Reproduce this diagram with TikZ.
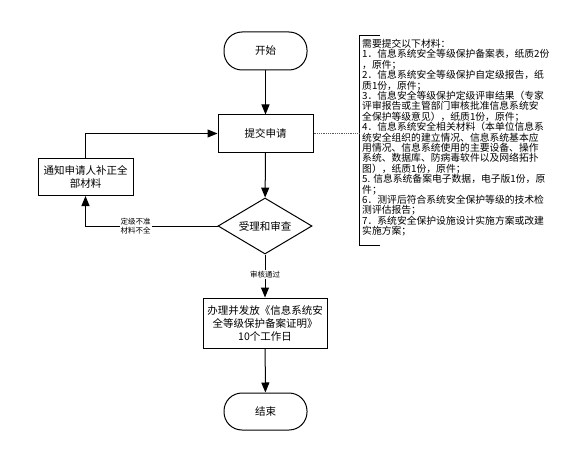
\documentclass[tikz,border=0pt]{standalone}
\usepackage{fontspec}
\setmainfont{Noto Sans CJK SC}
\usetikzlibrary{shapes.geometric,arrows.meta,calc}
\tikzset{
  base/.style={draw=black, line width=1pt, inner sep=1pt, align=center, font=\fontsize{10.5}{13}\selectfont},
  term/.style={base, rectangle, rounded corners=18pt, minimum width=83pt, minimum height=38pt},
  proc/.style={base, rectangle, minimum width=95pt, minimum height=37pt},
  decision/.style={base, diamond, aspect=1.68, minimum width=94pt, minimum height=56pt, inner sep=0pt},
  conn/.style={draw=black, line width=1pt, -{Triangle[length=10pt,width=8pt]}},
  plain/.style={draw=black, line width=1pt},
  lbl/.style={fill=white, inner sep=1pt, align=center, font=\fontsize{7.5}{9}\selectfont},
  note/.style={align=left, inner sep=0pt, font=\fontsize{9.8}{10.4}\selectfont}
}
\begin{document}
\begin{tikzpicture}[x=1pt,y=-1pt]
\useasboundingbox (0,0) rectangle (578,468);
\node[term] (start) at (265.5,51) {开始};
\node[proc] (submit) at (265.5,133.5) {提交申请};
\node[decision] (check) at (265,226) {受理和审查};
\node[proc] (notify) at (85.5,177) {通知申请人补正全\\部材料};
\node[proc, minimum width=124pt, minimum height=50pt] (issue) at (265,323) {办理并发放《信息系统安\\全等级保护备案证明》\\10个工作日};
\node[term, minimum height=37pt] (finish) at (265.5,411.5) {结束};

\draw[conn] (start) -- (submit);
\draw[conn] (submit) -- (check);
\draw[conn] (check.west) -| node[lbl, pos=0.31] {定级不准\\材料不全} (notify.south);
\draw[conn] (notify.north) |- (submit.west);
\draw[conn] (check.south) -- node[lbl, pos=0.47] {审核通过} (issue.north);
\draw[conn] (issue) -- (finish);

\coordinate (bt) at (380,36);
\coordinate (btl) at (359,36);
\coordinate (bbl) at (359,245);
\coordinate (bb) at (380,245);
\draw[plain] (bt) -- (btl) -- (bbl) -- (bb);
\draw[densely dotted, gray!70!black, line width=0.8pt] (submit.east) -- (submit.east -| btl);

\node[note, anchor=north west] (txt) at (362,39) {需要提交以下材料：\\
1．信息系统安全等级保护备案表，纸质2份\\
，原件；\\
2．信息系统安全等级保护自定级报告，纸\\
质1份，原件；\\
3．信息安全等级保护定级评审结果（专家\\
评审报告或主管部门审核批准信息系统安\\
全保护等级意见），纸质1份，原件；\\
4．信息系统安全相关材料（本单位信息系\\
统安全组织的建立情况、信息系统基本应\\
用情况、信息系统使用的主要设备、操作\\
系统、数据库、防病毒软件以及网络拓扑\\
图），纸质1份，原件；\\
5. 信息系统备案电子数据，电子版1份，原\\
件；\\
6．测评后符合系统安全保护等级的技术检\\
测评估报告；\\
7．系统安全保护设施设计实施方案或改建\\
实施方案；};
\end{tikzpicture}
\end{document}
